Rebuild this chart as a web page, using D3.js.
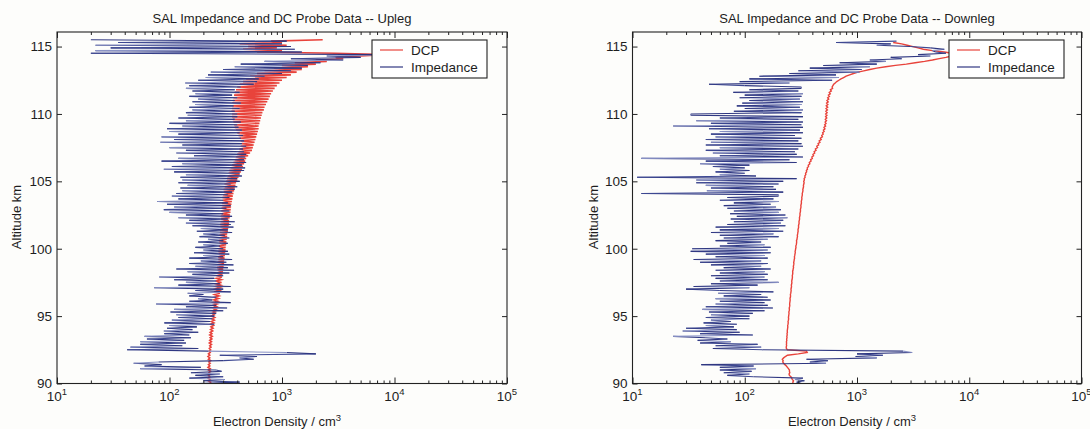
<!DOCTYPE html>
<meta charset="utf-8">
<style>
body{margin:0;background:#fdfdfb;}
svg{display:block;font-family:"Liberation Sans",Arial,sans-serif;}
.title,.xlab,.ylab{font-size:13px;fill:#1e1e1e;}
.legend text{font-size:13.5px;fill:#1e1e1e;}
.tick text{font-size:13.5px;fill:#1e1e1e;}
.tick line{stroke:#222;}
</style>
<body>
<script src="https://cdnjs.cloudflare.com/ajax/libs/d3/7.8.5/d3.min.js"></script>
<script>

// altitude samples start at 90 km, one value every 0.1 km
var altStart = 90, altStep = 0.1;

// upleg impedance, electron density per cm3 (rows = 1 km)
var upImpedance = [
 180,420,200,310,150,300,170,280,155,290,
 260,55,190,60,85,48,80,300,560,420,
 600,280,2000,1100,220,42,180,45,130,55,
 140,55,135,63,155,60,150,90,180,89,
 160,95,175,100,250,90,230,105,240,120,
 250,115,260,102,300,110,325,140,260,76,
 350,150,240,180,260,150,200,145,350,170,
 300,73,350,120,280,140,260,110,250,81,
 300,160,340,145,375,115,330,170,370,150,
 320,190,360,150,300,200,340,165,330,200,
 300,170,280,200,330,180,300,220,340,185,
 310,200,360,175,330,190,370,160,350,140,
 380,150,330,120,360,140,300,100,340,89,
 320,110,350,95,330,78,300,120,340,105,
 330,115,360,130,380,125,400,145,350,120,
 420,130,400,125,440,140,420,110,460,89,
 470,105,440,130,480,85,460,120,470,165,
 480,115,460,140,450,100,480,130,440,83,
 460,110,430,85,450,120,420,100,440,95,
 410,130,400,100,430,140,380,120,400,145,
 400,140,380,160,420,150,370,170,430,160,
 380,180,400,150,360,170,420,160,380,140,
 430,150,560,138,600,180,620,210,700,220,
 1000,233,1200,300,1500,380,1700,430,2200,700,
 3500,1200,5000,2500,9000,20,1500,22,1300,30,
 1200,22,1000,35,1100,20
];

// upleg DC probe
var upDCP = [
 225,232,222,230,220,228,222,230,224,232,
 222,230,220,228,222,230,224,232,222,228,
 220,228,222,230,224,232,226,234,228,236,
 226,236,228,238,230,240,228,238,230,242,
 232,244,234,246,232,248,236,250,238,252,
 236,250,240,255,242,258,240,262,245,265,
 245,268,248,272,250,275,252,280,250,278,
 255,282,258,285,260,290,258,288,262,292,
 262,295,265,298,268,300,265,302,270,305,
 268,305,272,308,270,310,275,312,272,315,
 272,315,275,318,278,320,275,322,280,325,
 278,325,282,330,280,332,285,335,282,338,
 285,338,288,342,286,345,290,348,288,350,
 290,352,295,355,292,358,298,362,295,365,
 300,370,305,375,302,380,310,385,308,390,
 320,400,325,410,330,420,335,430,340,440,
 350,450,360,460,370,470,380,480,390,500,
 400,520,410,540,420,550,430,560,440,570,
 430,580,420,590,410,600,400,610,390,620,
 380,620,375,630,370,640,365,650,360,660,
 360,670,355,690,360,700,365,720,360,740,
 365,760,370,780,375,800,380,830,390,860,
 400,900,420,950,450,1000,480,1100,520,1200,
 600,1350,700,1500,850,1700,1000,2000,1300,2500,
 2000,3500,3000,5000,8000,3000,600,1000,450,900,
 500,1100,420,1000,800,2300
];

// downleg impedance
var downImpedance = [
 320,290,340,280,330,120,70,110,65,115,
 60,126,60,120,41,530,380,550,355,1500,
 970,1700,1000,3100,2570,145,52,140,55,130,
 40,75,38,70,45,23,118,40,90,28,
 85,30,80,45,85,43,75,50,110,45,
 110,50,118,48,150,42,178,45,160,55,
 150,60,170,55,160,65,140,58,180,60,
 30,110,35,130,50,200,60,160,55,150,
 50,160,60,150,55,170,65,140,50,160,
 40,140,35,160,55,150,45,170,33,160,
 34,170,60,150,70,140,55,160,65,200,
 60,180,50,220,60,200,55,230,70,210,
 80,220,75,240,85,230,74,200,80,210,
 70,190,65,170,80,200,60,180,70,200,
 200,12,220,46,190,50,180,45,200,37,
 220,37,290,11,126,60,100,55,110,60,
 100,52,110,40,290,45,250,12,330,60,
 290,52,280,45,300,60,330,45,320,50,
 300,45,320,55,280,50,330,60,310,48,
 330,23,320,50,330,37,300,60,330,33,
 33,320,80,330,100,310,85,320,95,330,
 110,310,90,320,100,330,79,300,110,320,
 320,100,48,250,90,600,110,690,135,650,
 250,1050,300,1100,380,1300,500,1500,700,1800,
 1300,2500,2000,4500,3500,6200,5000,4700,6000,4500,
 3000,1500,2000,650,2250
];

// downleg DC probe
var downDCP = [
 270,268,272,265,262,258,250,248,252,250,
 250,245,240,235,228,222,218,220,216,222,
 230,240,300,360,355,240,235,234,236,235,
 236,235,237,236,238,237,239,238,240,239,
 240,241,242,241,243,244,243,245,246,245,
 246,247,248,247,249,250,249,251,252,251,
 252,253,254,253,255,256,255,257,258,259,
 258,260,261,260,262,263,262,264,265,266,
 265,267,268,267,269,270,272,271,273,274,
 273,275,276,278,277,279,280,282,281,283,
 284,286,285,288,289,290,289,292,293,295,
 294,296,297,299,298,300,302,301,303,305,
 304,306,308,307,309,311,310,312,314,313,
 315,317,316,318,320,319,321,323,322,324,
 326,325,328,330,329,332,334,333,336,338,
 335,340,338,345,343,350,348,356,354,362,
 360,370,368,380,376,390,386,400,396,410,
 405,420,415,432,426,445,438,455,450,468,
 460,480,472,492,485,500,494,510,502,518,
 508,525,515,530,520,535,522,538,525,540,
 526,542,528,545,530,548,532,550,536,554,
 540,560,548,568,556,578,566,590,580,606,
 600,610,620,640,660,690,720,760,800,860,
 930,1020,1150,1300,1500,1800,2200,2750,3300,4000,
 4700,5400,6200,7000,7500,7000,6000,4700,3900,3500,
 3150,2800,2500,2100
];

var xExponents = [1, 2, 3, 4, 5];
var yTicks = [90, 95, 100, 105, 110, 115];
var seriesNames = ["DCP", "Impedance"];
var titles = ["SAL Impedance and DC Probe Data -- Upleg", "SAL Impedance and DC Probe Data -- Downleg"];

var width = 1090, height = 429;
var dcpColor = "#e8433b", impColors = ["#2f3781", "#3d4892", "#2f3781", "#8a93c6"];

var svg = d3.select("body").append("svg")
    .attr("width", width)
    .attr("height", height);

var panels = [
    {left: 57, right: 507, legendX: 372, imp: upImpedance, dcp: upDCP, dcpWidth: 1.6, yLabX: 21},
    {left: 632.5, right: 1081.5, legendX: 949, imp: downImpedance, dcp: downDCP, dcpWidth: 1.4, yLabX: 598}
];

var plotTop = 32, plotBottom = 383.5;

panels.forEach(function(p, k){
    var x = d3.scaleLog().domain([10, 1e5]).range([p.left, p.right]);
    var y = d3.scaleLinear().domain([90, 116.08]).range([plotBottom, plotTop]);
    var majors = xExponents.map(function(e){ return Math.pow(10, e); });
    var minors = x.ticks().filter(function(d){ return majors.indexOf(d) < 0; });

    var g = svg.append("g");

    g.append("clipPath").attr("id", "clip" + k)
      .append("rect")
        .attr("x", p.left).attr("y", plotTop)
        .attr("width", p.right - p.left).attr("height", plotBottom - plotTop);

    var plot = g.append("g").attr("clip-path", "url(#clip" + k + ")");

    var line = d3.line()
        .x(function(d){ return x(d[0]); })
        .y(function(d){ return y(d[1]); });

    var dcpPts = p.dcp.map(function(v, i){ return [v, altStart + i * altStep]; });
    plot.append("path")
        .attr("d", line(dcpPts))
        .attr("fill", "none")
        .attr("stroke", dcpColor)
        .attr("stroke-width", p.dcpWidth);

    var impPts = p.imp.map(function(v, i){ return [v, altStart + i * altStep]; });
    plot.selectAll(".seg")
        .data(d3.pairs(impPts))
        .enter().append("line")
        .attr("class", "seg")
        .attr("x1", function(d){ return x(d[0][0]); })
        .attr("y1", function(d){ return y(d[0][1]); })
        .attr("x2", function(d){ return x(d[1][0]); })
        .attr("y2", function(d){ return y(d[1][1]); })
        .attr("stroke", function(d, i){ return impColors[i % 4]; })
        .attr("stroke-width", 1.1);

    // frame
    g.append("rect")
        .attr("x", p.left).attr("y", plotTop)
        .attr("width", p.right - p.left).attr("height", plotBottom - plotTop)
        .attr("fill", "none").attr("stroke", "#222").attr("stroke-width", 1.1);

    function noDomain(sel){ sel.select(".domain").remove(); }

    g.append("g").attr("transform", "translate(0," + plotBottom + ")")
        .call(d3.axisBottom(x).tickValues(minors).tickSize(-3).tickFormat("")).call(noDomain);
    g.append("g").attr("transform", "translate(0," + plotBottom + ")")
        .call(d3.axisBottom(x).tickValues(majors).tickSize(-6).tickFormat("")).call(noDomain);
    g.append("g").attr("transform", "translate(0," + plotTop + ")")
        .call(d3.axisTop(x).tickValues(minors).tickSize(-3).tickFormat("")).call(noDomain);
    g.append("g").attr("transform", "translate(0," + plotTop + ")")
        .call(d3.axisTop(x).tickValues(majors).tickSize(-6).tickFormat("")).call(noDomain);

    g.append("g").attr("transform", "translate(" + p.left + ",0)")
        .call(d3.axisLeft(y).tickValues(yTicks).tickSize(-5).tickPadding(5)).call(noDomain);
    g.append("g").attr("transform", "translate(" + p.right + ",0)")
        .call(d3.axisRight(y).tickValues(yTicks).tickSize(-5).tickFormat("")).call(noDomain);

    // 10^n labels
    var xl = g.selectAll(".xtl").data(xExponents).enter().append("text")
        .attr("class", "xtl")
        .attr("x", function(e){ return x(Math.pow(10, e)); })
        .attr("y", 401)
        .attr("text-anchor", "middle")
        .style("font-size", "13.5px").style("fill", "#1e1e1e");
    xl.append("tspan").text("10");
    xl.append("tspan").attr("dy", -6).style("font-size", "9.5px").text(function(e){ return e; });

    g.append("text").attr("class", "title")
        .attr("x", (p.left + p.right) / 2).attr("y", 22.5)
        .attr("text-anchor", "middle").text(titles[k]);

    var xt = g.append("text").attr("class", "xlab")
        .attr("x", (p.left + p.right) / 2 - 5).attr("y", 426)
        .attr("text-anchor", "middle");
    xt.append("tspan").text("Electron Density / cm");
    xt.append("tspan").attr("dy", -5).style("font-size", "9.5px").text("3");

    g.append("text").attr("class", "ylab")
        .attr("transform", "translate(" + p.yLabX + ",217) rotate(-90)")
        .attr("text-anchor", "middle").text("Altitude km");

    // legend
    var lg = g.append("g").attr("class", "legend").attr("transform", "translate(" + p.legendX + ",40)");
    lg.append("rect").attr("width", 115).attr("height", 38)
        .attr("fill", "#fff").attr("stroke", "#222").attr("stroke-width", 1.1);
    seriesNames.forEach(function(name, i){
        var ly = 10 + i * 17;
        lg.append("line").attr("x1", 8).attr("x2", 31).attr("y1", ly).attr("y2", ly)
            .attr("stroke", i === 0 ? dcpColor : impColors[0]).attr("stroke-width", 1.2);
        lg.append("text").attr("x", 39).attr("y", ly + 4.5).text(name);
    });
});

</script>
